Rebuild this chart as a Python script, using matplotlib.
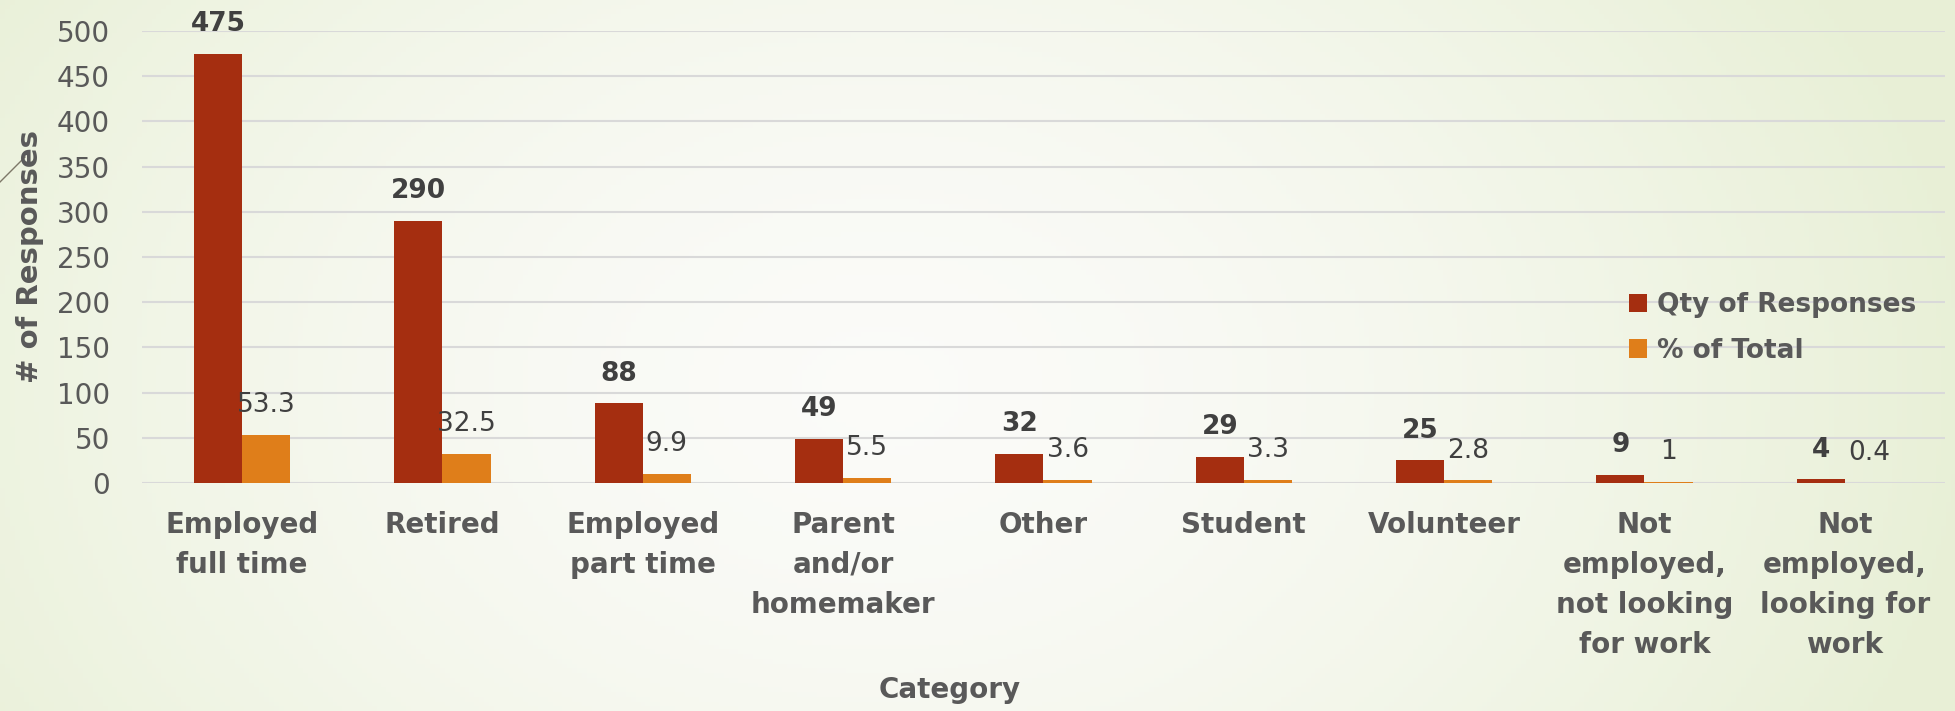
import numpy as np
import matplotlib.pyplot as plt
from matplotlib.lines import Line2D

# data
categories = ["Employed\nfull time", "Retired", "Employed\npart time",
              "Parent\nand/or\nhomemaker", "Other", "Student", "Volunteer",
              "Not\nemployed,\nnot looking\nfor work",
              "Not\nemployed,\nlooking for\nwork"]
qty = [475, 290, 88, 49, 32, 29, 25, 9, 4]
pct = [53.3, 32.5, 9.9, 5.5, 3.6, 3.3, 2.8, 1, 0.4]
yticks = [0, 50, 100, 150, 200, 250, 300, 350, 400, 450, 500]

red = '#A52E10'
orange = '#DF7E1A'
grey_txt = '#595959'
dark_txt = '#404040'

plt.rcParams['font.family'] = ['DejaVu Sans']

fig = plt.figure(figsize=(19.56, 7.11), dpi=100)

# soft greenish background gradient
bg = fig.add_axes([0, 0, 1, 1], zorder=-10)
gx, gy = np.meshgrid(np.linspace(0, 1, 400), np.linspace(0, 1, 150))
d = np.sqrt(((gx - 0.45) * 1.6) ** 2 + ((gy - 0.55) * 0.8) ** 2)
t = np.clip(d / 0.9, 0, 1) ** 1.6
c0 = np.array([0.985, 0.985, 0.975])
c1 = np.array([0.91, 0.94, 0.84])
img = c0[None, None, :] * (1 - t[..., None]) + c1[None, None, :] * t[..., None]
bg.imshow(img, aspect='auto', extent=[0, 1, 0, 1], origin='upper')
bg.axis('off')

# little decorative stroke at top left
fig.add_artist(Line2D([0, 25 / 1956], [1 - 182 / 711, 1 - 157 / 711],
                      color='#7d7868', lw=1, transform=fig.transFigure))

ax = fig.add_axes([142 / 1956, 1 - 483 / 711, (1945 - 142) / 1956, (483 - 31) / 711])
ax.set_facecolor('none')

x = np.arange(len(categories))
w = 0.24
b1 = ax.bar(x - w / 2, qty, w, color=red, label='Qty of Responses', zorder=3)
b2 = ax.bar(x + w / 2, pct, w, color=orange, label='% of Total', zorder=3)

for rect, v in zip(b1, qty):
    ax.annotate(f"{v:g}", (rect.get_x() + rect.get_width() / 2, rect.get_height()),
                xytext=(0, 12), textcoords='offset points', ha='center', va='bottom',
                fontsize=19, fontweight='bold', color=dark_txt, annotation_clip=False)
for rect, v in zip(b2, pct):
    ax.annotate(f"{v:g}", (rect.get_x() + rect.get_width() / 2, rect.get_height()),
                xytext=(0, 12), textcoords='offset points', ha='center', va='bottom',
                fontsize=19, color=dark_txt, annotation_clip=False)

ax.set_xlim(-0.5, len(categories) - 0.5)
ax.set_ylim(0, 500)
ax.set_yticks(yticks)
ax.set_xticks(x)
ax.set_xticklabels(categories, fontsize=20, fontweight='bold', color=grey_txt,
                   linespacing=1.55)
ax.tick_params(axis='both', length=0)
ax.tick_params(axis='y', labelsize=20, labelcolor=grey_txt, pad=23)
ax.tick_params(axis='x', pad=20)
for s in ax.spines.values():
    s.set_visible(False)
ax.grid(axis='y', color='#d9d9d9', lw=1.5, zorder=0)
ax.set_axisbelow(True)

fig.text(30 / 1956, 1 - 257 / 711, '# of Responses', rotation=90, ha='center',
         va='center', fontsize=21, fontweight='bold', color=grey_txt)
fig.text(950 / 1956, 1 - 690 / 711, 'Category', ha='center', va='center',
         fontsize=20, fontweight='bold', color=grey_txt)

leg = ax.legend(loc='upper left', bbox_to_anchor=(1629 / 1956, 1 - 292 / 711),
                bbox_transform=fig.transFigure, frameon=False, fontsize=19,
                handlelength=0.7, handleheight=0.7, handletextpad=0.35,
                labelspacing=0.75, borderpad=0, borderaxespad=0)
for txt in leg.get_texts():
    txt.set_fontweight('bold')
    txt.set_color(grey_txt)

fig.savefig('out.png', dpi=100)
